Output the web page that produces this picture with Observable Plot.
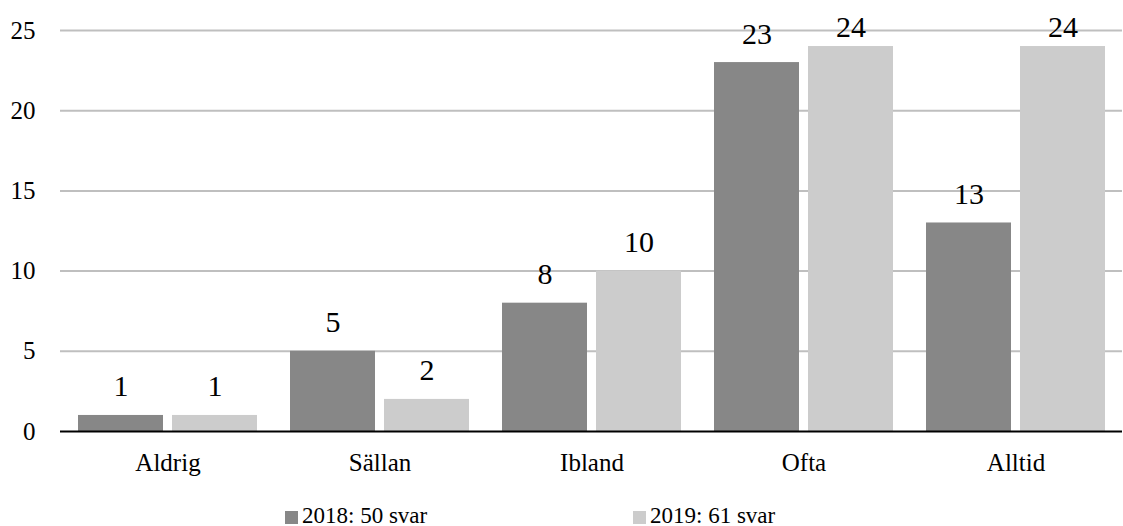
<!DOCTYPE html>
<html>
<head>
<meta charset="utf-8">
<script src="https://cdn.jsdelivr.net/npm/d3@7"></script>
<script src="https://cdn.jsdelivr.net/npm/@observablehq/plot@0.6"></script>
<style>
  html, body { margin: 0; padding: 0; background: white; }
  #wrap { width: 1123px; height: 526px; position: relative; font-family: "Liberation Serif", serif; }
  #chart svg, #chart svg text { font-family: "Liberation Serif", serif !important; font-variant-numeric: normal !important; }
  #legend { position: relative; width: 1123px; height: 46px; }
  .sw { position: absolute; width: 13px; height: 13px; top: 31px; }
  .lt { position: absolute; top: 24px; font-size: 23px; line-height: 23px; color: black; white-space: nowrap; font-family: "Liberation Serif", serif; }
</style>
</head>
<body>
<div id="wrap">
  <div id="chart"></div>
  <div id="legend"></div>
</div>
<script>
const categories = ["Aldrig", "Sällan", "Ibland", "Ofta", "Alltid"];
const values2018 = [1, 5, 8, 23, 13];
const values2019 = [1, 2, 10, 24, 24];
const seriesLabels = ["2018: 50 svar", "2019: 61 svar"];
const seriesColors = ["#878787", "#cccccc"];
const yTicks = [0, 5, 10, 15, 20, 25];
const gridTicks = [5, 10, 15, 20, 25];

const d2018 = categories.map((c, i) => ({category: c, value: values2018[i]}));
const d2019 = categories.map((c, i) => ({category: c, value: values2019[i]}));

// data labels are kept inside the plot area (as the original chart does)
const labelY = d => Math.min(d.value, 23.4);

const chart = Plot.plot({
  width: 1123,
  height: 480,
  marginTop: 30,
  marginBottom: 49,
  marginLeft: 60,
  marginRight: 1,
  style: {fontFamily: "'Liberation Serif', serif", fontSize: "25px", color: "black", background: "white"},
  x: {domain: categories, paddingInner: 0.156, paddingOuter: 0.08, label: null, tickSize: 0, tickPadding: 22},
  y: {domain: [0, 25], ticks: yTicks, tickSize: 0, tickPadding: 25, label: null},
  marks: [
    Plot.ruleY(gridTicks, {stroke: "#bfbfbf", strokeWidth: 2}),
    Plot.barY(d2018, {x: "category", y: "value", fill: seriesColors[0], insetRight: 94}),
    Plot.barY(d2019, {x: "category", y: "value", fill: seriesColors[1], insetLeft: 94}),
    Plot.ruleY([0], {stroke: "black", strokeWidth: 2}),
    Plot.text(d2018, {x: "category", y: labelY, text: "value", dx: -47, dy: -19, lineAnchor: "bottom", fontSize: 30, fontFamily: "'Liberation Serif', serif", fill: "black"}),
    Plot.text(d2019, {x: "category", y: labelY, text: "value", dx: 47, dy: -19, lineAnchor: "bottom", fontSize: 30, fontFamily: "'Liberation Serif', serif", fill: "black"})
  ]
});
document.getElementById("chart").appendChild(chart);

const legend = document.getElementById("legend");
const pos = [[285, 302], [633, 650]];
seriesLabels.forEach((lab, i) => {
  const sw = document.createElement("div");
  sw.className = "sw";
  sw.style.left = pos[i][0] + "px";
  sw.style.background = seriesColors[i];
  legend.appendChild(sw);
  const t = document.createElement("div");
  t.className = "lt";
  t.style.left = pos[i][1] + "px";
  t.textContent = lab;
  legend.appendChild(t);
});
</script>
</body>
</html>
